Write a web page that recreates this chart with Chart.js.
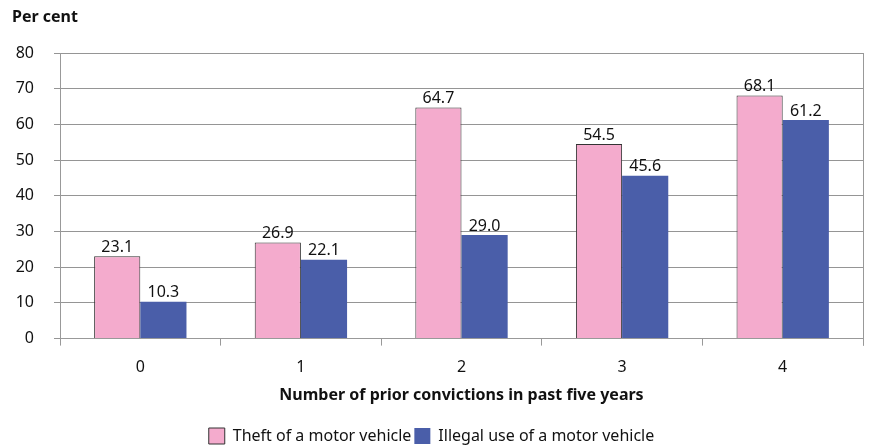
<!DOCTYPE html>
<html>
<head>
<meta charset="utf-8">
<script src="https://cdn.jsdelivr.net/npm/chart.js@4"></script>
<style>
  body { margin: 0; background: #fff; }
  #wrap { width: 870px; height: 448px; }
</style>
</head>
<body>
<div id="wrap"><canvas id="chart" width="870" height="448"></canvas></div>
<script>
// Data
const categories = ['0', '1', '2', '3', '4'];
const theft = [23.1, 26.9, 64.7, 54.5, 68.1];
const illegalUse = [10.3, 22.1, 29.0, 45.6, 61.2];
const seriesNames = ['Theft of a motor vehicle', 'Illegal use of a motor vehicle'];

const FONT = '"Noto Sans", sans-serif';

// Value labels above bars
const valueLabels = {
  id: 'valueLabels',
  afterDatasetsDraw(chart) {
    const ctx = chart.ctx;
    ctx.save();
    ctx.font = '16px ' + FONT;
    ctx.fillStyle = '#111';
    ctx.textAlign = 'center';
    ctx.textBaseline = 'bottom';
    chart.data.datasets.forEach((ds, i) => {
      chart.getDatasetMeta(i).data.forEach((bar, j) => {
        ctx.fillText(ds.data[j].toFixed(1), bar.x, bar.y - 1);
      });
    });
    ctx.restore();
  }
};

// "Per cent" label at top-left and right border of plot area
const extras = {
  id: 'extras',
  beforeDatasetsDraw(chart) {
    const ctx = chart.ctx;
    const a = chart.chartArea;
    ctx.save();
    ctx.strokeStyle = '#999';
    ctx.lineWidth = 1;
    ctx.beginPath();
    ctx.moveTo(Math.round(a.right) + 0.5, a.top);
    ctx.lineTo(Math.round(a.right) + 0.5, a.bottom + 7);
    ctx.stroke();
    ctx.restore();
  },
  afterDraw(chart) {
    const ctx = chart.ctx;
    ctx.save();
    ctx.font = 'bold 16px ' + FONT;
    ctx.fillStyle = '#111';
    ctx.textBaseline = 'middle';
    ctx.fillText('Per cent', 12, 17);
    ctx.restore();
  }
};

new Chart(document.getElementById('chart'), {
  type: 'bar',
  data: {
    labels: categories,
    datasets: [
      {
        label: seriesNames[0],
        data: theft,
        backgroundColor: '#f4abcd',
        borderColor: '#333',
        borderWidth: 1,
        categoryPercentage: 0.575,
        barPercentage: 1
      },
      {
        label: seriesNames[1],
        data: illegalUse,
        backgroundColor: '#4a5ea9',
        borderColor: '#4a5ea9',
        borderWidth: 0,
        categoryPercentage: 0.575,
        barPercentage: 1
      }
    ]
  },
  options: {
    responsive: false,
    animation: false,
    layout: { padding: { top: 53, right: 7, left: 0, bottom: -6 } },
    plugins: {
      legend: {
        position: 'bottom',
        labels: {
          font: { family: FONT, size: 16 },
          color: '#111',
          boxWidth: 16,
          boxHeight: 16,
          padding: 3
        }
      },
      tooltip: { enabled: false }
    },
    scales: {
      x: {
        grid: { drawOnChartArea: false, drawTicks: true, tickLength: 7, color: '#999' },
        border: { color: '#999' },
        ticks: { font: { family: FONT, size: 16 }, color: '#111', padding: 12 },
        title: {
          display: true,
          text: 'Number of prior convictions in past five years',
          font: { family: FONT, size: 16, weight: 'bold' },
          color: '#111',
          padding: { top: -3, bottom: 20 }
        }
      },
      y: {
        min: 0,
        max: 80,
        afterFit(scale) { scale.width = 60; },
        grid: { color: '#959595', tickLength: 6 },
        border: { color: '#999' },
        ticks: { stepSize: 10, font: { family: FONT, size: 16 }, color: '#111', padding: 20 }
      }
    }
  },
  plugins: [valueLabels, extras]
});
</script>
</body>
</html>
